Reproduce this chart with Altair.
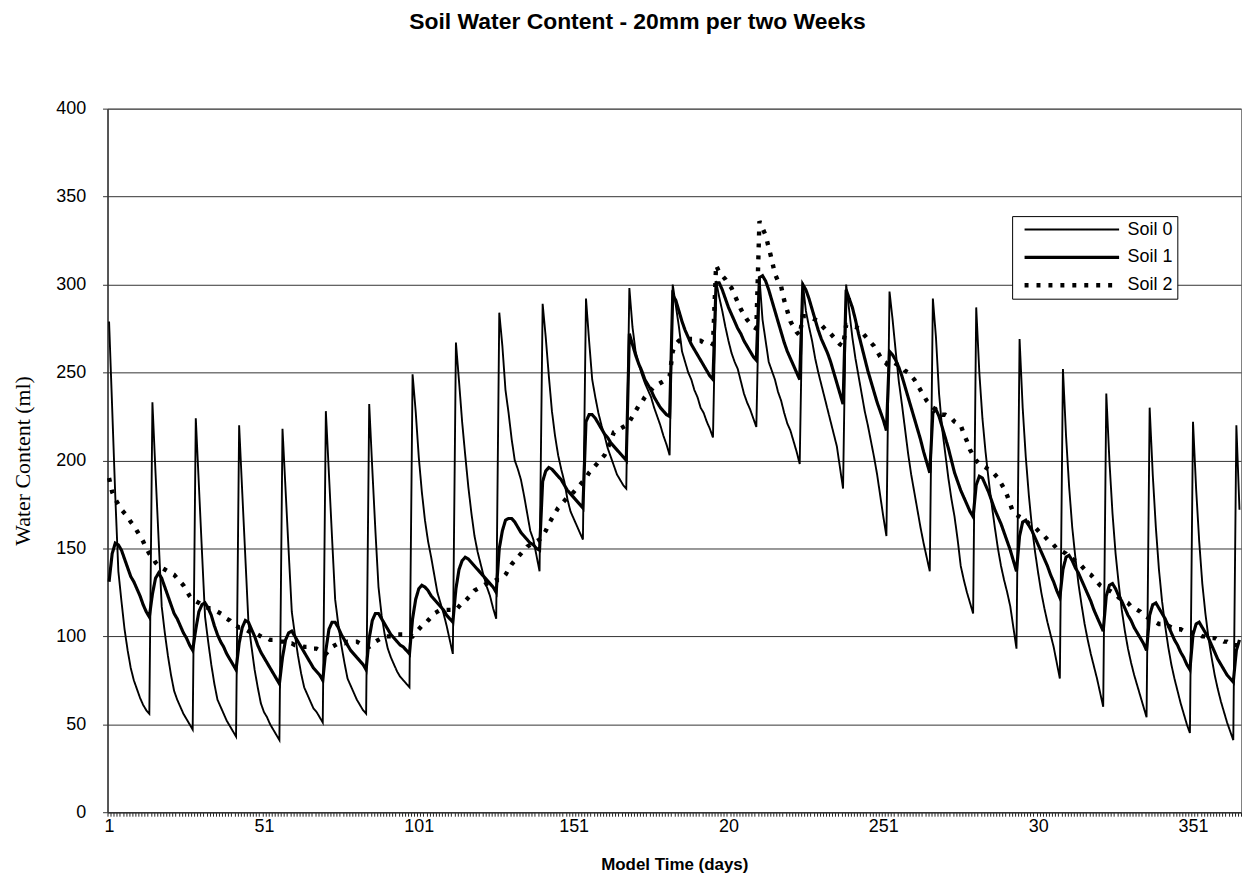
import altair as alt
import pandas as pd

title_text = "Soil Water Content - 20mm per two Weeks"
x_title = "Model Time (days)"
y_title = "Water Content (ml)"
series_names = ["Soil 0", "Soil 1", "Soil 2"]
days = list(range(1, 367))

soil0 = [
    279, 230, 180, 137, 120, 104, 92, 82, 75, 70, 65, 61, 58, 56,
    233, 193, 155, 117, 102, 89, 78, 69, 64, 60, 56, 53, 50, 47,
    224, 186, 148, 111, 97, 84, 73, 64, 60, 56, 52, 49, 46, 43,
    220, 182, 145, 108, 94, 81, 71, 62, 57, 54, 50, 47, 44, 41,
    218, 183, 148, 114, 101, 89, 79, 71, 67, 63, 59, 57, 54, 51,
    228, 192, 156, 121, 107, 95, 85, 76, 72, 68, 64, 61, 58, 56,
    232, 195, 160, 128, 112, 101, 93, 88, 84, 80, 77, 75, 73, 71,
    249, 228, 202, 182, 166, 154, 145, 135, 125, 119, 113, 106, 98, 90,
    267, 245, 222, 203, 185, 170, 157, 148, 141, 134, 128, 123, 116, 110,
    284, 265, 240, 227, 212, 200, 195, 189, 180, 170, 160, 155, 146, 137,
    289, 270, 248, 228, 214, 203, 195, 188, 178, 171, 167, 163, 159, 155,
    292, 268, 246, 236, 227, 220, 214, 207, 202, 197, 192, 189, 186, 184,
    298, 276, 262, 255, 249, 244, 240, 236, 230, 225, 220, 214, 209, 203,
    300, 288, 276, 262, 256, 250, 246, 240, 236, 230, 227, 222, 218, 213,
    302, 293, 285, 276, 268, 261, 256, 252, 245, 238, 233, 229, 224, 219,
    304, 280, 268, 256, 251, 246, 239, 234, 227, 221, 217, 211, 205, 198,
    301, 285, 276, 268, 258, 250, 243, 236, 229, 222, 215, 208, 196, 184,
    300, 285, 270, 258, 248, 238, 228, 220, 211, 202, 192, 180, 168, 157,
    296, 280, 262, 245, 232, 218, 204, 192, 182, 172, 162, 153, 145, 137,
    292, 270, 238, 218, 204, 190, 178, 168, 155, 140, 132, 125, 119, 113,
    287, 250, 224, 205, 189, 175, 162, 150, 140, 132, 125, 117, 105, 93,
    269, 230, 202, 180, 162, 148, 136, 125, 116, 108, 101, 94, 85, 76,
    252, 214, 185, 162, 145, 130, 118, 107, 98, 90, 83, 76, 68, 60,
    238, 200, 170, 147, 130, 115, 103, 93, 85, 78, 72, 66, 60, 54,
    230, 192, 162, 138, 120, 106, 94, 84, 76, 69, 62, 56, 50, 45,
    222, 184, 154, 130, 113, 99, 88, 78, 70, 63, 57, 51, 46, 41,
    220, 172,
]

soil1 = [
    131, 147, 153, 152, 149, 144, 139, 134, 131, 127, 123, 118, 114, 111,
    124, 133, 136, 133, 128, 123, 118, 113, 110, 106, 102, 99, 95, 92,
    104, 114, 118, 119, 116, 112, 106, 101, 97, 94, 90, 87, 84, 81,
    96, 105, 109, 108, 104, 100, 95, 91, 88, 85, 82, 79, 76, 73,
    88, 98, 102, 103, 100, 97, 94, 91, 88, 85, 82, 80, 78, 75,
    92, 104, 108, 108, 105, 101, 98, 95, 92, 90, 88, 86, 84, 81,
    99, 109, 113, 113, 110, 107, 104, 101, 99, 97, 95, 94, 92, 90,
    110, 121, 127, 129, 128, 126, 123, 121, 119, 117, 115, 112, 110, 108,
    127, 138, 143, 145, 144, 142, 140, 138, 136, 134, 132, 130, 128, 125,
    150, 160, 166, 167, 167, 165, 162, 159, 157, 155, 153, 152, 150, 149,
    188, 194, 196, 195, 193, 191, 189, 186, 183, 181, 179, 177, 175, 173,
    222, 226, 226, 224, 221, 218, 215, 213, 210, 208, 206, 204, 202, 200,
    272, 266, 260, 255, 251, 246, 243, 240, 236, 233, 230, 228, 226, 225,
    294, 291, 285, 279, 274, 270, 266, 263, 260, 257, 254, 251, 248, 246,
    301, 301, 297, 292, 287, 283, 279, 275, 272, 268, 265, 262, 259, 257,
    304, 305, 302, 297, 291, 285, 279, 273, 267, 262, 258, 254, 250, 246,
    300, 297, 292, 286, 280, 274, 269, 265, 261, 256, 250, 244, 238, 232,
    297, 292, 287, 280, 272, 265, 258, 251, 245, 239, 233, 228, 223, 217,
    262, 260, 257, 253, 248, 242, 236, 230, 224, 218, 212, 205, 199, 193,
    227, 229, 225, 219, 213, 207, 200, 193, 188, 183, 179, 175, 171, 168,
    186, 191, 190, 186, 182, 177, 172, 168, 164, 159, 154, 149, 143, 137,
    157, 165, 166, 163, 160, 156, 152, 148, 144, 140, 135, 131, 126, 122,
    138, 145, 146, 143, 139, 136, 132, 128, 124, 120, 115, 111, 107, 103,
    123, 129, 130, 127, 123, 120, 116, 112, 109, 105, 102, 99, 96, 92,
    112, 118, 119, 116, 113, 110, 106, 102, 98, 95, 91, 88, 84, 81,
    101, 107, 108, 105, 102, 99, 95, 91, 87, 84, 81, 78, 76, 74,
    92, 98,
]

soil2 = [
    190, 182, 178, 175, 172, 170, 168, 165, 163, 160, 157, 154, 150, 147,
    145, 142, 140, 139, 138, 137, 136, 135, 133, 131, 129, 126, 123, 121,
    120, 119, 118, 117, 116, 116, 115, 114, 113, 112, 110, 109, 107, 106,
    105, 105, 104, 103, 102, 102, 101, 100, 99, 99, 98, 98, 97, 97,
    97, 97, 96, 96, 95, 95, 95, 94, 94, 94, 93, 93, 92, 91,
    90, 92, 94, 95, 96, 96, 96, 97, 97, 97, 97, 96, 95, 94,
    94, 95, 97, 98, 99, 100, 100, 100, 101, 101, 101, 101, 101, 101,
    100, 102, 104, 106, 107, 109, 111, 113, 114, 115, 115, 115, 115, 115,
    115, 117, 119, 120, 122, 124, 126, 127, 128, 129, 130, 131, 131, 132,
    132, 133, 135, 138, 141, 143, 145, 147, 149, 151, 152, 153, 154, 155,
    157, 160, 164, 167, 170, 173, 175, 177, 179, 180, 182, 184, 186, 188,
    190, 193, 195, 197, 199, 201, 203, 207, 211, 216, 217, 218, 219, 220,
    222, 225, 228, 231, 233, 236, 238, 240, 242, 243, 244, 245, 246, 248,
    262, 266, 268, 269, 269, 269, 269, 269, 268, 268, 267, 267, 267, 266,
    311, 307, 305, 303, 300, 298, 294, 290, 286, 283, 280, 278, 276, 275,
    336, 332, 328, 321, 314, 306, 302, 299, 291, 285, 279, 276, 273, 271,
    282, 282, 281, 281, 280, 279, 277, 275, 273, 272, 270, 268, 266, 265,
    277, 277, 276, 276, 275, 273, 271, 269, 267, 265, 262, 259, 257, 255,
    257, 256, 255, 254, 253, 251, 250, 248, 246, 243, 240, 237, 234, 232,
    230, 229, 227, 226, 226, 225, 224, 222, 221, 220, 215, 211, 206, 203,
    200, 198, 197, 196, 195, 194, 192, 190, 187, 184, 180, 175, 170, 169,
    168, 167, 166, 164, 163, 162, 160, 158, 157, 155, 154, 152, 150, 149,
    148, 147, 145, 144, 143, 142, 140, 138, 136, 135, 133, 131, 129, 128,
    127, 126, 125, 124, 122, 121, 120, 119, 117, 116, 115, 114, 112, 111,
    110, 109, 108, 107, 107, 106, 106, 105, 105, 104, 104, 103, 103, 102,
    102, 101, 101, 100, 100, 100, 99, 99, 98, 98, 97, 97, 96, 95,
    95, 94,
]

x_label_days = [1, 51, 101, 151, 201, 251, 301, 351]
x_label_text = ["1", "51", "101", "151", "20", "251", "30", "351"]
y_ticks = [0, 50, 100, 150, 200, 250, 300, 350, 400]

records = []
for name, vals in zip(series_names, [soil0, soil1, soil2]):
    for d, v in zip(days, vals):
        records.append({"day": d, "value": v, "series": name})
df = pd.DataFrame(records)

W, H = 1139, 707
FONT = "Liberation Sans"

label_expr = " : ".join(
    f"datum.value == {d} ? '{t}'" for d, t in zip(x_label_days, x_label_text)
) + " : ''"

x_scale = alt.Scale(domain=[0.5, len(days) + 0.5], nice=False, zero=False)
y_scale = alt.Scale(domain=[0, 400], nice=False, zero=True)
boundaries = [i + 0.5 for i in range(0, len(days) + 1)]

legend_def = alt.Legend(
    title=None, orient="none", legendX=909, legendY=108, direction="vertical",
    symbolType="stroke", symbolSize=9025, symbolStrokeColor="black",
    symbolOffset=6, clipHeight=19, rowPadding=9, labelOffset=6,
    labelFont=FONT, labelFontSize=18, labelColor="black",
    labelExpr="datum.label + '\u2003'",
    fillColor="white", strokeColor="black", padding=4,
)

lines = alt.Chart(df).mark_line(color="black", strokeCap="butt").encode(
    x=alt.X("day:Q", scale=x_scale, axis=alt.Axis(
        orient="bottom", values=boundaries, labels=False, ticks=True, tickSize=4,
        tickColor="#222", tickWidth=1, domain=True, domainColor="#333", domainWidth=1.5,
        grid=False, title=None)),
    y=alt.Y("value:Q", scale=y_scale, axis=alt.Axis(
        values=y_ticks, title=y_title, grid=True, gridColor="#333", gridWidth=1,
        tickSize=5, tickColor="#333", domainColor="#333", domainWidth=1.5,
        labelFont=FONT, labelFontSize=18, labelColor="black", labelPadding=17,
        titleFont="Liberation Serif", titleFontSize=22, titleFontWeight="normal",
        titleColor="black", titlePadding=21)),
    strokeDash=alt.StrokeDash("series:N", scale=alt.Scale(
        domain=series_names, range=[[1, 0], [1, 0], [4, 8]]), legend=legend_def),
    strokeWidth=alt.StrokeWidth("series:N", scale=alt.Scale(
        domain=series_names, range=[1.9, 4.4, 2.2]), legend=legend_def),
)

label_layer = alt.Chart(pd.DataFrame({"day": x_label_days})).mark_rule(opacity=0).encode(
    x=alt.X("day:Q", scale=x_scale, axis=alt.Axis(
        orient="bottom", values=x_label_days, labelExpr=label_expr, ticks=False,
        tickSize=0, domain=False, grid=False, labelFlush=False, labelOverlap=False,
        labelPadding=5, labelFont=FONT, labelFontSize=18, labelColor="black",
        title=x_title, titleFont=FONT, titleFontSize=17, titleFontWeight="bold",
        titleColor="black", titlePadding=22)),
)

chart = alt.layer(lines, label_layer).resolve_axis(x="independent").properties(
    width=W, height=H,
    autosize=alt.AutoSizeParams(type="none"),
    padding={"left": 100, "top": 99, "right": 3, "bottom": 66},
    title=alt.TitleParams(
        text=title_text, font=FONT, fontSize=23, fontWeight="bold", color="black",
        anchor="middle", baseline="alphabetic", offset=57, dx=-37, dy=9),
).configure_view(stroke="#808080", strokeWidth=1)

chart.save("out.html", embed_options={"renderer": "svg", "actions": False})
